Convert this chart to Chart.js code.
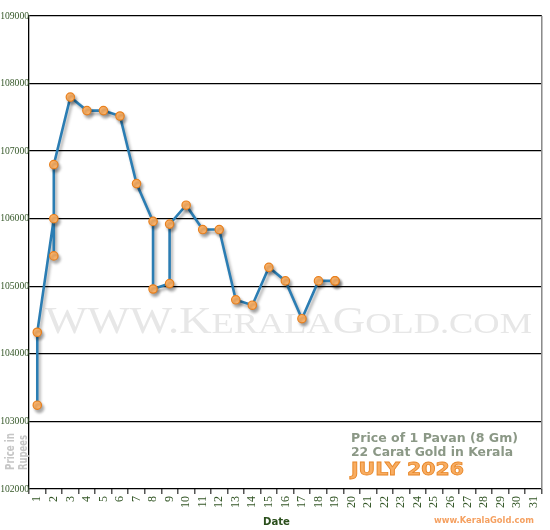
<!DOCTYPE html>
<html><head><meta charset="utf-8">
<script src="https://cdn.jsdelivr.net/npm/chart.js@4.4.0/dist/chart.umd.min.js"></script>
<style>html,body{margin:0;padding:0;background:#fff}canvas{display:block}</style>
</head><body>
<canvas id="c" width="550" height="530"></canvas>
<script>
// Kerala gold, 1 pavan 22ct, July 2026 (several updates on some days)
const dayLabels=['1','2','3','4','5','6','7','8','9','10','11','12','13','14','15','16','17','18','19','20','21','22','23','24','25','26','27','28','29','30','31'];
const days=[1,1,2,2,2,3,4,5,6,7,8,8,9,9,10,11,12,13,14,15,16,17,18,19,19];
const prices=[103240,104320,106000,105450,106800,107800,107600,107600,107520,106520,105960,104960,105040,105920,106200,105840,105840,104800,104720,105280,105080,104520,105080,105080,105080];
const yMin=102000, yMax=109000, yStep=1000;

const green='#335626';
// fit a string into a given width (scale horizontally)
function fit(ctx,t,x,y,w){const m=ctx.measureText(t).width; ctx.save(); ctx.translate(x,y); ctx.scale(w/m,1); ctx.fillText(t,0,0); ctx.restore();}

const deco={id:'deco',
  beforeDatasetsDraw(c){
    const ctx=c.ctx; ctx.save(); ctx.fillStyle='#e7e7e7'; ctx.textBaseline='alphabetic';
    const parts=[['WWW.',37],['K',37],['ERALA',30],['G',37],['OLD',30],['.COM',30]];
    let tot=0; parts.forEach(p=>{ctx.font=p[1]+'px "Liberation Serif"'; tot+=ctx.measureText(p[0]).width;});
    const sx=487/tot; ctx.translate(45,333); ctx.scale(sx,1); let x=0;
    parts.forEach(p=>{ctx.font=p[1]+'px "Liberation Serif"'; ctx.fillText(p[0],x,0); x+=ctx.measureText(p[0]).width;});
    ctx.restore();
  },
  beforeDatasetDraw(c){const ctx=c.ctx; ctx.save(); ctx.shadowColor='rgba(0,0,0,0.32)'; ctx.shadowBlur=3; ctx.shadowOffsetX=2; ctx.shadowOffsetY=3;},
  afterDatasetDraw(c){c.ctx.restore();},
  afterDraw(c){
    const ctx=c.ctx, a=c.chartArea; ctx.save();
    // right border
    ctx.strokeStyle='#888'; ctx.lineWidth=1.5; ctx.beginPath(); ctx.moveTo(a.right,a.top); ctx.lineTo(a.right,a.bottom); ctx.stroke();
    ctx.textBaseline='alphabetic'; ctx.textAlign='left';
    ctx.fillStyle='#8b9886'; ctx.font='bold 12px "DejaVu Sans"';
    fit(ctx,'Price of 1 Pavan (8 Gm)',351,442,167);
    fit(ctx,'22 Carat Gold in Kerala',351,456,162);
    ctx.font='bold 17px "DejaVu Sans"'; ctx.fillStyle='#f8ad62'; ctx.strokeStyle='#e8882a'; ctx.lineWidth=0.8;
    const m=ctx.measureText('JULY 2026').width; ctx.save(); ctx.translate(351,475); ctx.scale(113/m,1); ctx.fillText('JULY 2026',0,0); ctx.strokeText('JULY 2026',0,0); ctx.restore();
    ctx.font='bold 9px "DejaVu Sans"'; ctx.fillStyle='#f5a060';
    fit(ctx,'www.KeralaGold.com',434,523,100);
    ctx.font='bold 10px "DejaVu Sans"'; ctx.fillStyle='#2b4f1c';
    fit(ctx,'Date',263,525,27);
    // rotated y title
    ctx.fillStyle='#c6c6c6'; ctx.font='bold 12px "DejaVu Sans"';
    ctx.save(); ctx.translate(14,470); ctx.rotate(-Math.PI/2); fit(ctx,'Price in',0,0,37); ctx.restore();
    ctx.save(); ctx.translate(27,470); ctx.rotate(-Math.PI/2); fit(ctx,'Rupees',0,0,35); ctx.restore();
    ctx.restore();
  }
};

new Chart(document.getElementById('c'),{
  type:'line',
  data:{labels:dayLabels,datasets:[{
    data:days.map((d,i)=>({x:String(d),y:prices[i]})),
    borderColor:'#2b7db3',borderWidth:2.6,tension:0,fill:false,
    pointRadius:4.2,pointBorderWidth:1.2,pointBackgroundColor:'#fdb46a',pointBorderColor:'#e8801e',pointHoverRadius:4.2
  }]},
  options:{
    responsive:false,animation:false,
    layout:{padding:{left:0,right:2,top:16,bottom:0}},
    plugins:{legend:{display:false},tooltip:{enabled:false}},
    scales:{
      x:{type:'category',offset:true,
        grid:{offset:true,drawOnChartArea:false,drawTicks:true,tickLength:5,color:'#555',lineWidth:1.5},
        border:{display:false},
        ticks:{autoSkip:false,maxRotation:90,minRotation:90,padding:2,color:green,font:{family:'"Liberation Serif"',size:12}},
        afterFit(s){s.height=41;}
      },
      y:{min:yMin,max:yMax,
        ticks:{stepSize:yStep,padding:0,color:green,font:{family:'"Liberation Serif"',size:9.6},callback:v=>String(v)},
        grid:{color:'#000',lineWidth:1.3,drawTicks:false},
        border:{color:'#000',width:1.3},
        afterFit(s){s.width=29;}
      }
    }
  },
  plugins:[deco]
});
</script>
</body></html>
